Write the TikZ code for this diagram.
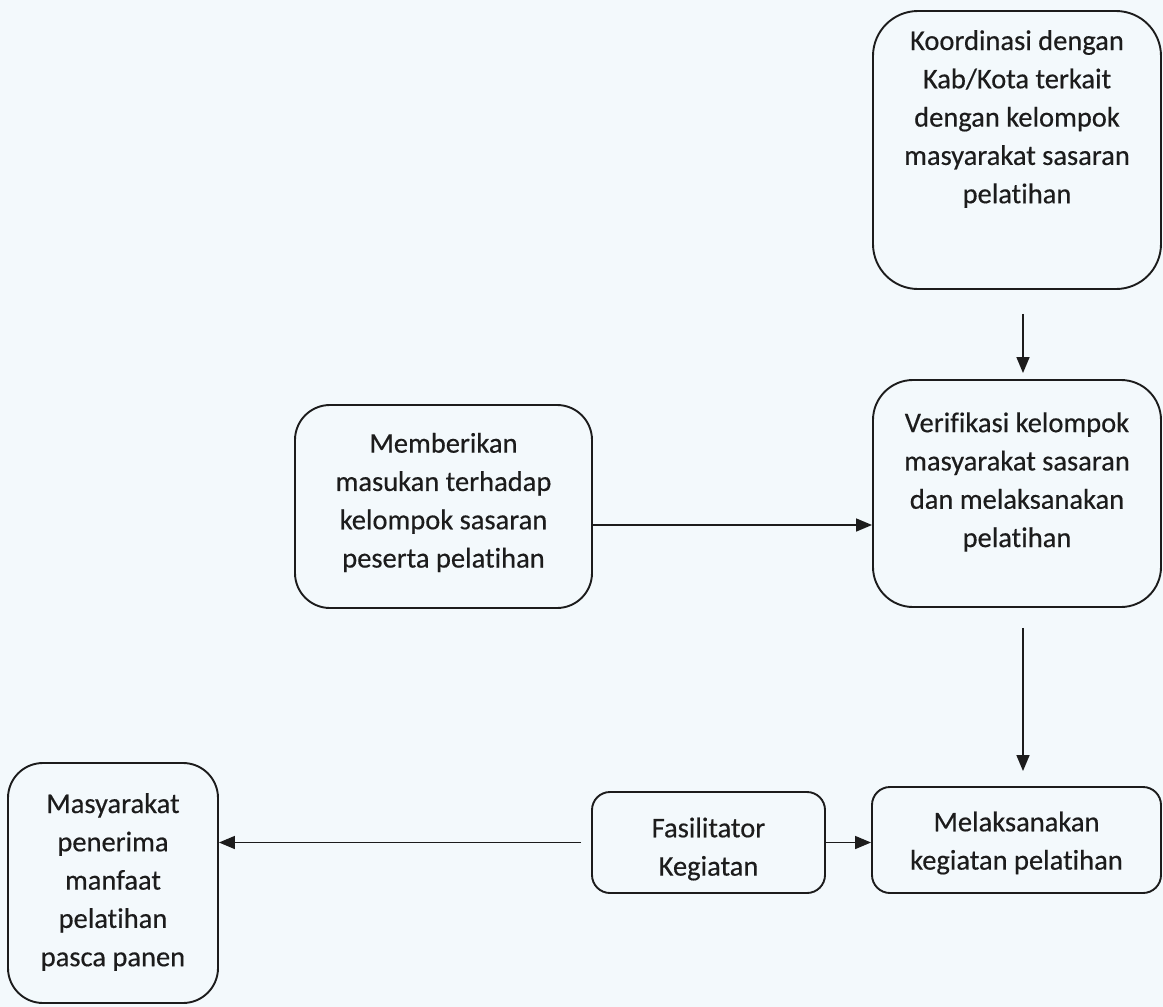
\documentclass[tikz,border=0pt]{standalone}
\usepackage{fontspec}
\setmainfont{Carlito}[Ligatures={NoCommon}]
\newfontfamily\boxfont{Carlito}[Ligatures={NoCommon}, FakeBold=0.4]
\usetikzlibrary{arrows.meta}
\definecolor{paper}{HTML}{F3F9FC}
\definecolor{ink}{HTML}{1C1C1C}
\begin{document}
\begin{tikzpicture}[x=1pt,y=-1pt,
  box/.style={draw=ink, line width=1.9pt, inner sep=0pt},
  txt/.style={inner sep=0pt, align=center, text=ink, font=\boxfont\fontsize{28.5}{38.3}\selectfont},
  flow/.style={draw=ink, line width=1.6pt, -{Triangle[length=16pt,width=13pt]}}
]
% page
\fill[paper] (0,0) rectangle (1163,1007);
\useasboundingbox (0,0) rectangle (1163,1007);

% boxes
\node[box, rounded corners=45pt, minimum width=288pt, minimum height=278pt] (koord) at (1017,150) {};
\node[box, rounded corners=40pt, minimum width=288pt, minimum height=227pt] (verif) at (1017,493.5) {};
\node[box, rounded corners=35pt, minimum width=297pt, minimum height=203pt] (mem) at (443.5,506.5) {};
\node[box, rounded corners=18pt, minimum width=289pt, minimum height=106pt] (melak) at (1016.5,840) {};
\node[box, rounded corners=18pt, minimum width=233pt, minimum height=101pt] (fas) at (708.5,842.5) {};
\node[box, rounded corners=35pt, minimum width=210pt, minimum height=240pt] (masy) at (113,883) {};

% texts
\node[txt] (koordT) at (1017,119) {Koordinasi dengan\\Kab/Kota terkait\\dengan kelompok\\masyarakat sasaran\\pelatihan};
\node[txt] (verifT) at (1017,482) {Verifikasi kelompok\\masyarakat sasaran\\dan melaksanakan\\pelatihan};
\node[txt] (memT) at (443.5,502.5) {Memberikan\\masukan terhadap\\kelompok sasaran\\peserta pelatihan};
\node[txt] (melakT) at (1016.5,843) {Melaksanakan\\kegiatan pelatihan};
\node[txt] (fasT) at (708.5,849) {Fasilitator\\Kegiatan};
\node[txt] (masyT) at (113,882) {Masyarakat\\penerima\\manfaat\\pelatihan\\pasca panen};

% connector guides
\coordinate (col) at (1023,0);
\coordinate (row) at (0,525);

% connectors
\draw[flow, shorten <=24pt, shorten >=6pt] (koord.south -| col) -- (verif.north -| col);
\draw[flow] (mem.east |- row) -- (verif.west |- row);
\draw[flow, shorten <=20pt, shorten >=15pt] (verif.south -| col) -- (melak.north -| col);
\draw[flow] (fas.east) -- (fas.east -| melak.west);
\draw[flow, shorten <=10pt] (fas.west) -- (fas.west -| masy.east);
\end{tikzpicture}
\end{document}
